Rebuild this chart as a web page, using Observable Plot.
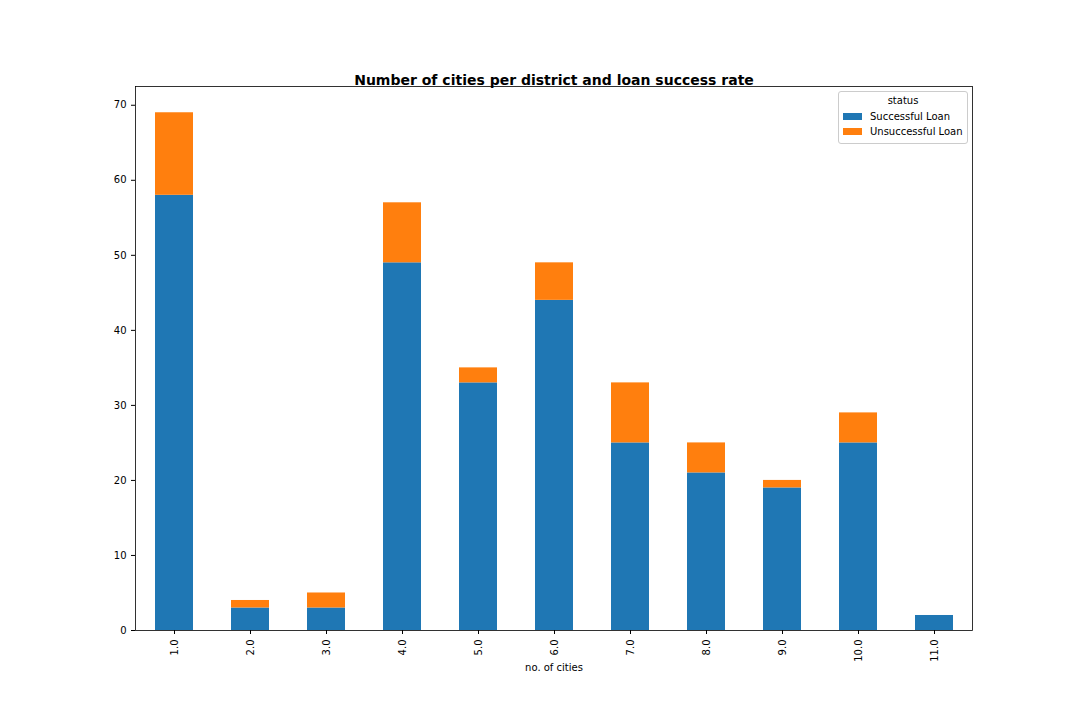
<!DOCTYPE html>
<html>
<head>
<meta charset="utf-8">
<script src="https://cdn.jsdelivr.net/npm/d3@7"></script>
<script src="https://cdn.jsdelivr.net/npm/@observablehq/plot@0.6"></script>
<style>
  body { margin: 0; background: #fff; font-family: "DejaVu Sans", sans-serif; }
  #wrap { position: relative; width: 1080px; height: 720px; }
  .leyenda { position: absolute; left: 838px; top: 91px; width: 128px; border: 1px solid #ccc;
    border-radius: 3px; background: #fff; font-size: 10px; color: #000; padding: 3px 0 4px 0; }
  .leyenda .tit { text-align: center; margin-bottom: 3px; }
  .leyenda .fila { display: flex; align-items: center; padding-left: 4px; height: 15px; }
  .leyenda .sw { width: 19px; height: 7px; margin-right: 8px; }
</style>
</head>
<body>
<div id="wrap"></div>
<script>
  const CIUDADES = ["1.0","2.0","3.0","4.0","5.0","6.0","7.0","8.0","9.0","10.0","11.0"];
  const EXITO = [58, 3, 3, 49, 33, 44, 25, 21, 19, 25, 2];
  const FALLO = [11, 1, 2, 8, 2, 5, 8, 4, 1, 4, 0];
  const SERIES = ["Successful Loan", "Unsuccessful Loan"];
  const COLORES = ["#1f77b4", "#ff7f0e"];
  const Y_TICKS = [0, 10, 20, 30, 40, 50, 60, 70];

  const datos = [];
  CIUDADES.forEach((c, i) => {
    datos.push({ c, status: SERIES[0], v: EXITO[i] });
    datos.push({ c, status: SERIES[1], v: FALLO[i] });
  });

  const chart = Plot.plot({
    width: 1080, height: 720,
    marginLeft: 135, marginRight: 108, marginTop: 86, marginBottom: 90,
    style: { fontFamily: "DejaVu Sans, sans-serif", fontSize: "10px", color: "#000", background: "#fff" },
    x: { domain: CIUDADES, paddingInner: 0.5, paddingOuter: 0.25, tickRotate: -90,
         label: "no. of cities", labelAnchor: "center", labelOffset: 40, tickSize: 4 },
    y: { domain: [0, 72.5], ticks: Y_TICKS, label: null, tickSize: 4 },
    color: { domain: SERIES, range: COLORES },
    marks: [
      Plot.barY(datos, { x: "c", y: "v", fill: "status", order: SERIES }),
      Plot.frame({ stroke: "#000", strokeWidth: 0.8 }),
      Plot.text(["Number of cities per district and loan success rate"], {
        frameAnchor: "top", dy: -11, fontSize: 14, fontWeight: "bold", fill: "#000"
      })
    ]
  });

  const wrap = document.getElementById("wrap");
  wrap.appendChild(chart);

  const ley = document.createElement("div");
  ley.className = "leyenda";
  ley.innerHTML = `<div class="tit">status</div>` + SERIES.map((s, i) =>
    `<div class="fila"><span class="sw" style="background:${COLORES[i]}"></span>${s}</div>`).join("");
  wrap.appendChild(ley);
</script>
</body>
</html>
